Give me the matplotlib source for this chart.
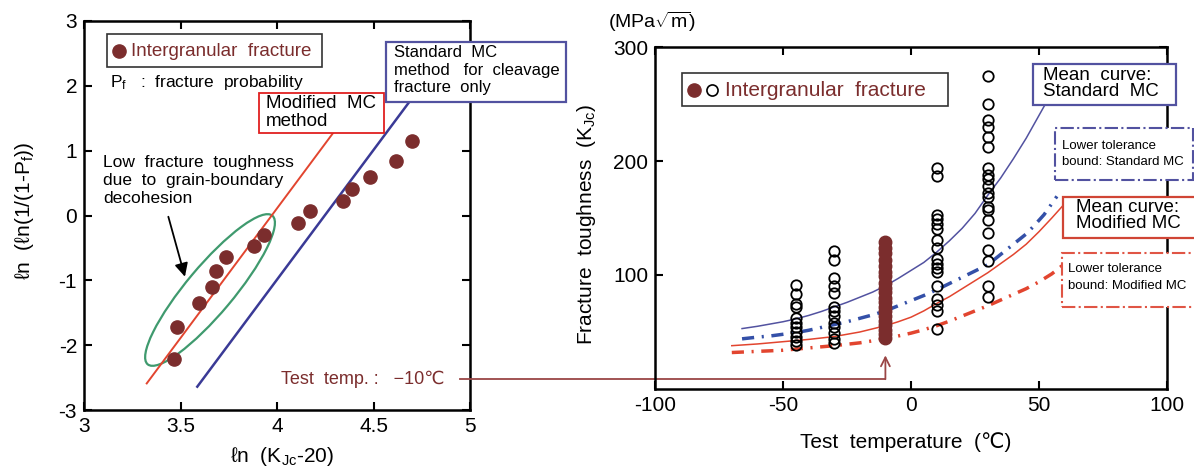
import matplotlib.pyplot as plt
from matplotlib.patches import Rectangle, Ellipse
from matplotlib.lines import Line2D
from matplotlib.transforms import ScaledTranslation

plt.rcParams['font.family'] = ['Liberation Sans', 'DejaVu Sans']
plt.rcParams['mathtext.fontset'] = 'custom'
plt.rcParams['mathtext.rm'] = 'Liberation Sans'
plt.rcParams['mathtext.it'] = 'Liberation Sans:italic'
plt.rcParams['axes.unicode_minus'] = False

W, H = 1194, 468

# ---- left panel: Weibull plot ----
ln_k = [3.466, 3.484, 3.598, 3.665, 3.682, 3.736, 3.881, 3.933,
        4.110, 4.171, 4.340, 4.390, 4.482, 4.617, 4.701]
ln_p = [-2.22, -1.725, -1.355, -1.10, -0.851, -0.635, -0.466, -0.306,
        -0.111, 0.069, 0.228, 0.404, 0.589, 0.848, 1.147]
mod_x = [3.325, 4.30]
mod_y = [-2.59, 1.31]
std_x = [3.587, 4.70]
std_y = [-2.64, 1.81]
cluster_center = (3.653, -1.149)

# ---- right panel: K_Jc vs temperature ----
t_cols = [-45, -30, -10, 10, 30]
k_m45 = [91, 83, 75, 72, 62, 58, 54, 50, 46, 42, 39]
k_m30 = [121, 113, 97, 90, 84, 72, 68, 64, 58, 54, 49, 44, 40]
k_m10 = [129, 124, 119, 113, 108, 103, 99, 93, 89, 85, 80, 76, 72,
         68, 64, 60, 56, 52, 48, 45]
k_p10 = [194, 187, 153, 149, 145, 140, 131, 124, 114, 110, 106, 103,
         90, 79, 74, 68, 53]
k_p30 = [275, 250, 236, 230, 221, 212, 194, 188, 184, 178, 172, 168,
         160, 157, 148, 137, 122, 112, 90, 81]

std_mean_t = [-66, -60, -55, -50, -45, -40, -35, -30, -25, -20, -15, -10, -5,
              0, 5, 10, 15, 20, 25, 30, 35, 40, 45, 52]
std_mean_k = [53, 55, 57, 59, 61.5, 64.5, 68, 72, 76, 80.5, 85, 90.5, 97,
              104, 111, 120, 130, 141, 154, 170, 185, 202, 220, 248]
std_low_t = [-66, -60, -55, -50, -45, -40, -35, -30, -25, -20, -15, -10, -5,
             0, 5, 10, 15, 20, 25, 30, 35, 40, 45, 48, 52, 57]
std_low_k = [44, 45.5, 46.5, 48, 49.5, 51.5, 54, 56.5, 59, 62, 65, 68.5, 73,
             77.5, 82, 87, 92.5, 98, 103.5, 109, 118, 127, 136, 143, 153, 169]
mod_mean_t = [-70, -60, -50, -45, -40, -30, -20, -10, -5, 0, 5, 10, 15, 20,
              25, 30, 35, 40, 45, 50, 55, 59]
mod_mean_k = [38, 39.5, 41.5, 42.5, 43.5, 46, 50, 55.5, 59, 63, 68.5, 75, 81,
              88, 95, 102, 110, 118, 127, 138, 150, 160]
mod_low_t = [-70, -60, -50, -40, -30, -20, -10, 0, 5, 10, 15, 20, 25, 30, 35,
             40, 45, 50, 55, 59.5]
mod_low_k = [32, 33, 34, 36, 38, 40.5, 44, 49, 52, 55.5, 59.5, 64, 68.5, 73,
             78, 83, 88, 94, 101, 109]
test_temp = -10

DARK_RED = '#7b2d2d'
RED = '#e2452f'
NAVY = '#3a3a96'
SLATE = '#5252a0'
BLUE_DD = '#3450a8'
GREEN = '#3f9a6e'


def fx(x):
    return x / W


def fy(y):
    return 1 - y / H


def box(fig, x0, y0, x1, y1, color, ls='-', lw=1.3):
    fig.add_artist(Rectangle((fx(x0), fy(y1)), (x1 - x0) / W, (y1 - y0) / H,
                             transform=fig.transFigure, facecolor='white',
                             edgecolor=color, linestyle=ls, lw=lw, zorder=5))


def label(fig, x, y, s, size, color='black', va='top', ls=1.0):
    fig.text(fx(x), fy(y), s, fontsize=size, color=color, va=va, ha='left',
             linespacing=ls, zorder=6)


def style_axes(ax):
    ax.tick_params(direction='in', top=True, right=True, length=6, width=1.5,
                   labelsize=15, pad=5)
    for sp in ax.spines.values():
        sp.set_linewidth(1.8)


fig = plt.figure(figsize=(W / 100, H / 100), dpi=100)
ax1 = fig.add_axes([84 / W, 1 - 410 / H, 386 / W, 389 / H])
ax2 = fig.add_axes([655 / W, 1 - 389 / H, 512 / W, 342 / H])

# left panel
ax1.plot(mod_x, mod_y, color=RED, lw=1.4, zorder=2)
ax1.plot(std_x, std_y, color=NAVY, lw=1.8, zorder=2)
ell = Ellipse((0, 0), 1.94, 0.47, angle=50, fill=False, ec=GREEN, lw=1.6,
              transform=fig.dpi_scale_trans + ScaledTranslation(*cluster_center, ax1.transData))
ax1.add_patch(ell)
ax1.plot(ln_k, ln_p, 'o', color=DARK_RED, ms=9.5, zorder=3)
ax1.annotate('', xy=(3.523, -0.944), xytext=(3.437, -0.019),
             arrowprops=dict(arrowstyle='-|>', color='black', lw=1.3,
                             mutation_scale=20, shrinkA=0, shrinkB=0))
ax1.set_xlim(3, 5)
ax1.set_ylim(-3, 3)
ax1.set_xticks([3, 3.5, 4, 4.5, 5])
ax1.set_xticklabels(['3', '3.5', '4', '4.5', '5'])
ax1.set_yticks([-3, -2, -1, 0, 1, 2, 3])
style_axes(ax1)
ax1.set_xlabel('ℓn  (K$_\\mathregular{Jc}$-20)', fontsize=15)
ax1.xaxis.set_label_coords(0.514, -0.09)
ax1.set_ylabel('ℓn  (ℓn(1/(1-P$_\\mathregular{f}$))', fontsize=15)
ax1.yaxis.set_label_coords(-0.124, 0.512)

# right panel
for t, ks in zip([t_cols[0], t_cols[1], t_cols[3], t_cols[4]], [k_m45, k_m30, k_p10, k_p30]):
    ax2.plot([t] * len(ks), ks, 'o', mfc='none', mec='black', mew=1.3, ms=7.5, zorder=3)
ax2.plot([t_cols[2]] * len(k_m10), k_m10, 'o', color=DARK_RED, ms=9, zorder=3)
ax2.plot(std_mean_t, std_mean_k, color=SLATE, lw=1.1, zorder=2)
ax2.plot(std_low_t, std_low_k, color=BLUE_DD, lw=2.5, dashes=(3.5, 2.2, 0.6, 2.2), zorder=2)
ax2.plot(mod_mean_t, mod_mean_k, color=RED, lw=1.1, zorder=2)
ax2.plot(mod_low_t, mod_low_k, color=RED, lw=2.5, dashes=(3.5, 2.2, 0.6, 2.2), zorder=2)
ax2.set_xlim(-100, 100)
ax2.set_ylim(0, 300)
ax2.set_xticks([-100, -50, 0, 50, 100])
ax2.set_yticks([100, 200, 300])
style_axes(ax2)
ax2.set_xlabel('Test  temperature  (℃)', fontsize=15)
ax2.xaxis.set_label_coords(0.49, -0.125)
ax2.set_ylabel('Fracture  toughness  (K$_\\mathregular{Jc}$)', fontsize=15)
ax2.yaxis.set_label_coords(-0.112, 0.482)

# test temperature connector
x_start = ax2.transData.inverted().transform(fig.transFigure.transform((fx(460), 0)))[0]
ax2.plot([x_start, test_temp], [8.8, 8.8], color='#9a4545', lw=1.3, clip_on=False)
ax2.annotate('', xy=(test_temp, 29.5), xytext=(test_temp, 8.6), annotation_clip=False,
             arrowprops=dict(arrowstyle='->', color='#9a4545', lw=1.3,
                             mutation_scale=16, shrinkA=0, shrinkB=0))

# left annotations
box(fig, 106.7, 34.3, 322.3, 66.7, '#333333', lw=1.2)
fig.add_artist(Line2D([fx(119)], [fy(51)], marker='o', color=DARK_RED, ms=9.5,
                      transform=fig.transFigure, zorder=6))
label(fig, 131, 51, 'Intergranular  fracture', 13.5, DARK_RED, va='center')
label(fig, 110, 82, 'P$_\\mathregular{f}$   :  fracture  probability', 12.5, va='center')
box(fig, 258.5, 93.3, 383.8, 133.2, '#e02020', lw=1.3)
label(fig, 265.8, 95, 'Modified  MC\nmethod', 13.5, ls=1.08)
box(fig, 386, 42.3, 566.4, 101.7, SLATE, lw=1.6)
label(fig, 393.8, 45, 'Standard  MC\nmethod   for  cleavage\nfracture  only', 12, ls=1.22)
label(fig, 103.3, 155, 'Low  fracture  toughness\ndue  to  grain-boundary\ndecohesion', 12.5, ls=1.25)
label(fig, 281, 379, 'Test  temp. :   −10℃', 13, DARK_RED, va='center')

# right annotations
label(fig, 607.6, 21.7, '(MPa$\\sqrt{\\mathregular{m}}$)', 14, va='center')
box(fig, 681.8, 73.3, 948, 106, '#333333', lw=1.2)
fig.add_artist(Line2D([fx(693.5)], [fy(90)], marker='o', color=DARK_RED, ms=9.5,
                      transform=fig.transFigure, zorder=6))
fig.add_artist(Line2D([fx(712.3)], [fy(90)], marker='o', mfc='none', mec='black',
                      mew=1.2, ms=8, transform=fig.transFigure, zorder=6))
label(fig, 724.9, 90, 'Intergranular  fracture', 15, DARK_RED, va='center')
box(fig, 1033.3, 64, 1175.7, 105, SLATE, lw=1.6)
label(fig, 1043.3, 67, 'Mean  curve:\nStandard  MC', 13.5, ls=0.9)
box(fig, 1055, 128.3, 1193.3, 180, SLATE, ls='-.', lw=1.5)
label(fig, 1061.7, 140, 'Lower tolerance\nbound: Standard MC', 9.5, ls=1.45)
box(fig, 1063.3, 196.7, 1196, 238.3, '#d04535', lw=1.6)
label(fig, 1076, 199.5, 'Mean curve:\nModified MC', 13.5, ls=0.9)
box(fig, 1061.7, 253.3, 1196, 306.7, '#e05545', ls='-.', lw=1.5)
label(fig, 1068, 263.5, 'Lower tolerance\nbound: Modified MC', 9.5, ls=1.45)

fig.savefig('out.png', dpi=100)
